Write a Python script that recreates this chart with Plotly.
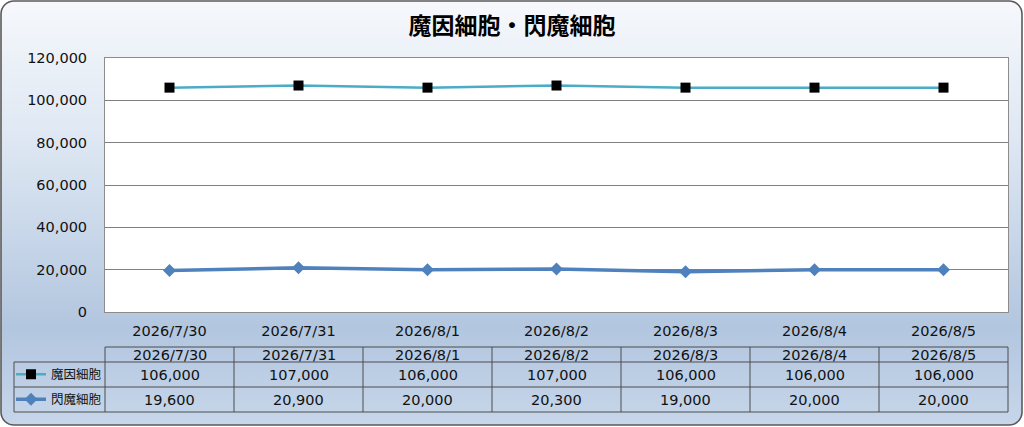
import base64

import plotly.graph_objects as go

W, H = 1024, 427

dates = ["2026/7/30", "2026/7/31", "2026/8/1", "2026/8/2", "2026/8/3", "2026/8/4", "2026/8/5"]
magic_cells = [106000, 107000, 106000, 107000, 106000, 106000, 106000]
flash_cells = [19600, 20900, 20000, 20300, 19000, 20000, 20000]
series_names = ["魔因細胞", "閃魔細胞"]
title_text = "魔因細胞・閃魔細胞"

FONT = "DejaVu Sans, Noto Sans CJK JP, sans-serif"
JP_FONT = "Noto Sans CJK JP, sans-serif"

# plot frame in pixels (from top-left)
PX_L, PX_R, PX_T, PX_B = 105, 1008, 58, 312
TBL_L = 14
ROWS = [347, 362, 387, 412]


def px(x):
    return x / W


def py(y):
    return 1 - y / H


# background: rounded panel with vertical gradient
svg = f"""<svg xmlns='http://www.w3.org/2000/svg' width='{W}' height='{H}' viewBox='0 0 {W} {H}'>
<defs><linearGradient id='g' x1='0' y1='0' x2='0' y2='1'>
<stop offset='0' stop-color='#f6f8fc'/>
<stop offset='0.35' stop-color='#dce6f2'/>
<stop offset='0.77' stop-color='#b2c6df'/>
<stop offset='1' stop-color='#c7d6ea'/>
</linearGradient></defs>
<rect x='1' y='1' width='1021' height='424' rx='13' ry='13' fill='url(#g)' stroke='#5a5a5a' stroke-width='1.6'/>
</svg>"""
bg_src = "data:image/svg+xml;base64," + base64.b64encode(svg.encode("utf-8")).decode("ascii")

fig = go.Figure()

fig.add_trace(go.Scatter(
    x=dates, y=magic_cells, name=series_names[0], mode="lines+markers",
    line=dict(color="#4bacc6", width=2.5),
    marker=dict(symbol="square", size=10, color="#000000"),
    legend="legend",
))
fig.add_trace(go.Scatter(
    x=dates, y=flash_cells, name=series_names[1], mode="lines+markers",
    line=dict(color="#4f81bd", width=3.5),
    marker=dict(symbol="diamond", size=10, color="#4f81bd"),
    legend="legend2",
))

shapes = []
# white plot area over the gradient panel
shapes.append(dict(type="rect", xref="paper", yref="paper", layer="below",
                   x0=px(PX_L), x1=px(PX_R), y0=py(PX_B), y1=py(PX_T),
                   fillcolor="#ffffff", line=dict(width=0)))

# data table below the plot
col_w = (PX_R - PX_L) / len(dates)
line_style = dict(color="#4d4d4d", width=1)
shapes.append(dict(type="line", xref="paper", yref="paper", x0=px(PX_L), x1=px(PX_R),
                   y0=py(ROWS[0]), y1=py(ROWS[0]), line=line_style))
for r in ROWS[1:]:
    shapes.append(dict(type="line", xref="paper", yref="paper", x0=px(TBL_L), x1=px(PX_R),
                       y0=py(r), y1=py(r), line=line_style))
shapes.append(dict(type="line", xref="paper", yref="paper", x0=px(TBL_L), x1=px(TBL_L),
                   y0=py(ROWS[1]), y1=py(ROWS[3]), line=line_style))
for i in range(len(dates) + 1):
    xx = px(PX_L + i * col_w)
    shapes.append(dict(type="line", xref="paper", yref="paper", x0=xx, x1=xx,
                       y0=py(ROWS[0]), y1=py(ROWS[3]), line=line_style))

annotations = []
row_vals = [dates, [f"{v:,}" for v in magic_cells], [f"{v:,}" for v in flash_cells]]
for ri, vals in enumerate(row_vals):
    yc = py((ROWS[ri] + ROWS[ri + 1]) / 2)
    for i, v in enumerate(vals):
        annotations.append(dict(
            x=px(PX_L + (i + 0.5) * col_w), y=yc, xref="paper", yref="paper",
            text=v, showarrow=False, xanchor="center", yanchor="middle",
            font=dict(family=FONT, size=14.5, color="#111111"),
        ))

legend_common = dict(
    xref="paper", yref="paper", x=px(TBL_L - 3), xanchor="left", yanchor="middle",
    bgcolor="rgba(0,0,0,0)", borderwidth=0, itemwidth=30,
    font=dict(family=JP_FONT, size=12.5, color="#111111"),
)

fig.update_layout(
    width=W, height=H,
    margin=dict(l=0, r=0, t=0, b=0),
    paper_bgcolor="#ffffff",
    plot_bgcolor="#ffffff",
    title=dict(text=title_text, x=px(512), y=py(26), xanchor="center", yanchor="middle",
               xref="paper", yref="paper",
               font=dict(family=JP_FONT, size=23, color="#000000", weight="bold")),
    showlegend=True,
    legend=dict(**legend_common, y=py((ROWS[1] + ROWS[2]) / 2)),
    legend2=dict(**legend_common, y=py((ROWS[2] + ROWS[3]) / 2)),
    xaxis=dict(
        domain=[px(PX_L), px(PX_R)], type="category", range=[-0.5, len(dates) - 0.5],
        showgrid=False, showline=True, mirror=True, linecolor="#8c8c8c", linewidth=1,
        ticks="", tickfont=dict(family=FONT, size=14.5, color="#111111"),
        ticklabelstandoff=6, automargin=False, fixedrange=True,
    ),
    yaxis=dict(
        domain=[py(PX_B), py(PX_T)], range=[0, 120000], dtick=20000, tickformat=",",
        showgrid=True, gridcolor="#7f7f7f", gridwidth=1, zeroline=False,
        showline=True, mirror=True, linecolor="#8c8c8c", linewidth=1,
        ticks="", tickfont=dict(family=FONT, size=14.5, color="#111111"),
        ticklabelstandoff=14, automargin=False, fixedrange=True,
    ),
    shapes=shapes,
    annotations=annotations,
    images=[dict(source=bg_src, xref="paper", yref="paper", x=0, y=1, sizex=1, sizey=1,
                 xanchor="left", yanchor="top", sizing="stretch", layer="below")],
)

fig.write_html("out.html", config={"displayModeBar": False},
               post_script="document.body.style.margin='0';")
